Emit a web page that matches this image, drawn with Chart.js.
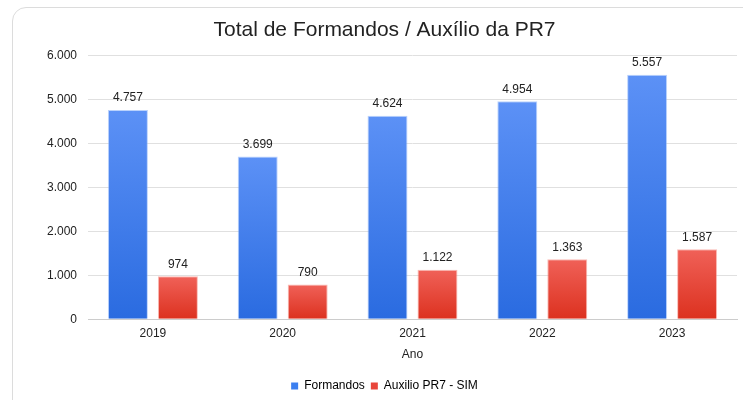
<!DOCTYPE html>
<html>
<head>
<meta charset="utf-8">
<script src="https://cdn.jsdelivr.net/npm/chart.js@4/dist/chart.umd.min.js"></script>
<style>
  html, body { margin: 0; padding: 0; background: #fff; }
  #wrap { position: relative; width: 743px; height: 400px; overflow: hidden; }
  #card {
    position: absolute; left: 12px; top: 7px; width: 760px; height: 420px;
    border: 1px solid #dcdcdc; border-radius: 14px; box-sizing: border-box;
  }
  #c { position: absolute; left: 0; top: 0; }
</style>
</head>
<body>
<div id="wrap">
  <div id="card"></div>
  <canvas id="c" width="743" height="406"></canvas>
</div>
<script>
// ---- data ----
const years = ["2019", "2020", "2021", "2022", "2023"];
const formandos = [4757, 3699, 4624, 4954, 5557];
const auxilio = [974, 790, 1122, 1363, 1587];
const yTicks = [0, 1000, 2000, 3000, 4000, 5000, 6000];

const FONT = "'Liberation Sans', Arial, sans-serif";

// 4757 -> "4.757"
function fmt(n) {
  return String(Math.round(n)).replace(/\B(?=(\d{3})+(?!\d))/g, ".");
}

// vertical gradient per bar, from its own top to the baseline
function barGradient(top, bottom) {
  return function (ctx) {
    const chart = ctx.chart;
    if (!chart.chartArea || ctx.type !== "data") return bottom;
    const y = chart.scales.y;
    const y0 = y.getPixelForValue(ctx.raw);
    const y1 = y.getPixelForValue(0);
    const g = chart.ctx.createLinearGradient(0, y0, 0, y1);
    g.addColorStop(0, top);
    g.addColorStop(1, bottom);
    return g;
  };
}

// value labels above the bars
const valueLabels = {
  id: "valueLabels",
  afterDatasetsDraw(chart) {
    const ctx = chart.ctx;
    ctx.save();
    ctx.font = "12px " + FONT;
    ctx.fillStyle = "#222";
    ctx.textAlign = "center";
    ctx.textBaseline = "bottom";
    chart.data.datasets.forEach((ds, i) => {
      chart.getDatasetMeta(i).data.forEach((bar, j) => {
        ctx.fillText(fmt(ds.data[j]), bar.x, bar.y - 6);
      });
    });
    ctx.restore();
  }
};

new Chart(document.getElementById("c"), {
  type: "bar",
  data: {
    labels: years,
    datasets: [
      {
        label: "Formandos",
        data: formandos,
        backgroundColor: barGradient("#5c91f6", "#2a6be0"),
        borderColor: "rgba(140,180,250,0.6)",
        borderWidth: 1,
        categoryPercentage: 0.77,
        barPercentage: 0.8
      },
      {
        label: "Auxilio PR7 - SIM",
        data: auxilio,
        backgroundColor: barGradient("#f06158", "#dc311f"),
        borderColor: "rgba(245,140,130,0.6)",
        borderWidth: 1,
        categoryPercentage: 0.77,
        barPercentage: 0.8
      }
    ]
  },
  options: {
    responsive: false,
    animation: false,
    layout: { padding: { left: 32, right: 6, top: 10, bottom: 4 } },
    plugins: {
      title: {
        display: true,
        text: "Total de Formandos / Auxílio da PR7",
        color: "#222",
        font: { family: FONT, size: 21, weight: "normal" },
        padding: { top: 8, bottom: 12 }
      },
      legend: {
        position: "bottom",
        labels: {
          color: "#222",
          font: { family: FONT, size: 12 },
          boxWidth: 7,
          boxHeight: 7,
          padding: 6,
          generateLabels: chart => chart.data.datasets.map((ds, i) => ({
            text: ds.label,
            fillStyle: i === 0 ? "#3b7ff0" : "#e8453a",
            strokeStyle: "transparent",
            lineWidth: 0,
            datasetIndex: i
          }))
        }
      },
      tooltip: { enabled: false }
    },
    scales: {
      x: {
        grid: { display: false, drawTicks: false },
        border: { color: "#cccccc" },
        ticks: { color: "#222", font: { family: FONT, size: 12 }, padding: 7 },
        title: {
          display: true, text: "Ano", color: "#222",
          font: { family: FONT, size: 12 }, padding: { top: 0, bottom: 12 }
        }
      },
      y: {
        min: 0,
        max: 6000,
        afterBuildTicks: s => { s.ticks = yTicks.map(v => ({ value: v })); },
        afterFit: s => { s.width = 56; },
        grid: { color: "#e0e0e0", drawTicks: false },
        border: { display: false },
        ticks: {
          color: "#222", font: { family: FONT, size: 12 }, padding: 11,
          callback: v => fmt(v)
        }
      }
    }
  },
  plugins: [valueLabels]
});
</script>
</body>
</html>
